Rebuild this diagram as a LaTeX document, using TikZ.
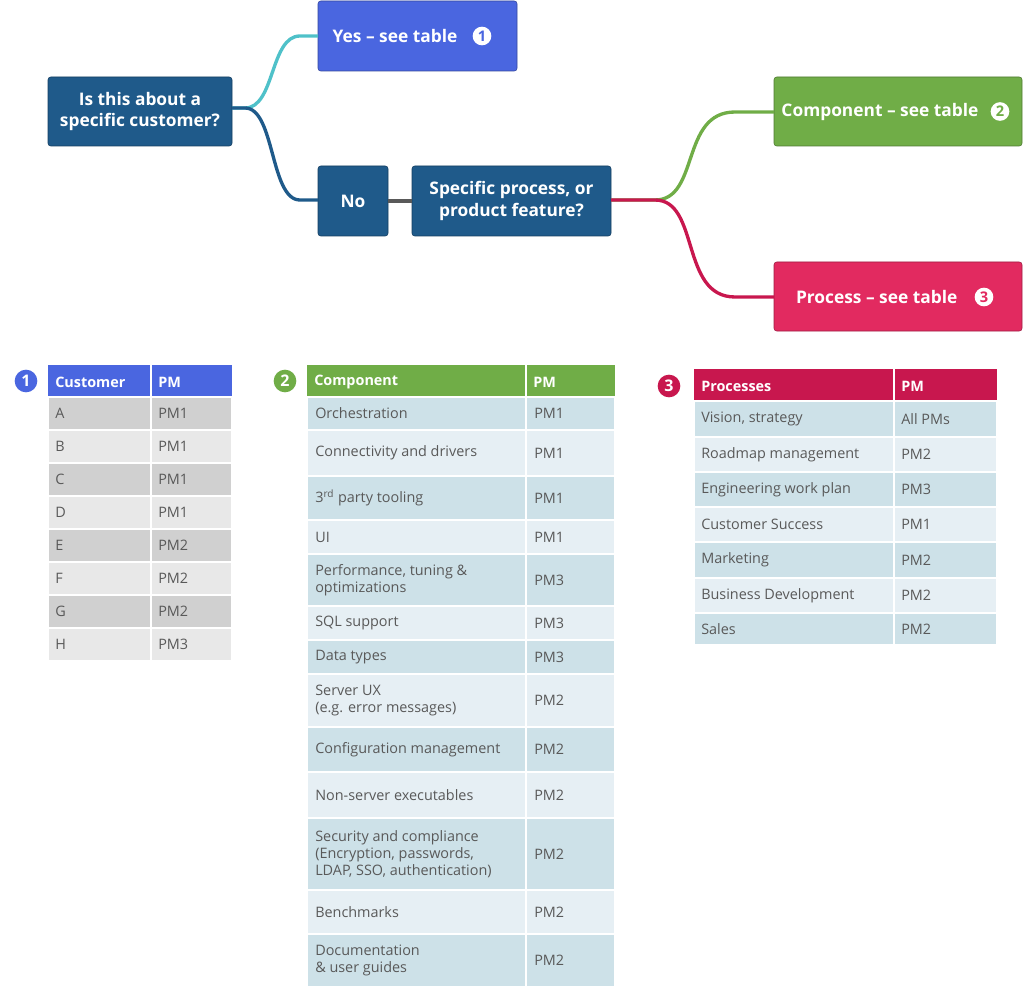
\documentclass[tikz,border=0pt]{standalone}
\usepackage{fontspec}
\setmainfont{Open Sans}
\usetikzlibrary{positioning}
\definecolor{qblue}{HTML}{1F5A8A}
\definecolor{yblue}{HTML}{4A66E0}
\definecolor{cgreen}{HTML}{70AD47}
\definecolor{pred}{HTML}{E22A60}
\definecolor{hred}{HTML}{C8174E}
\definecolor{teal}{HTML}{4FC1C9}
\definecolor{tgray}{HTML}{595959}
\definecolor{gA}{HTML}{D0D0D0}
\definecolor{gB}{HTML}{E8E8E8}
\definecolor{bA}{HTML}{CDE1E8}
\definecolor{bB}{HTML}{E6EFF4}
\begin{document}
\begin{tikzpicture}[x=0.75pt,y=-0.75pt,
  box/.style={draw=#1!70!black,fill=#1,rounded corners=2pt,text=white,font=\fontsize{13}{16}\selectfont\bfseries,align=center,inner sep=0pt},
  badge/.style={circle,fill=#1,text=white,inner sep=0pt,minimum size=17pt,font=\fontsize{12}{12}\selectfont\bfseries},
  mini/.style={circle,fill=white,text=#1,inner sep=0pt,minimum size=14pt,font=\fontsize{11}{11}\selectfont\bfseries},
  cell/.style={fill=#1,draw=white,line width=1.2pt},
  ctext/.style={anchor=west,text=tgray,font=\fontsize{10.8}{13}\selectfont,align=left,inner sep=0pt},
  htext/.style={anchor=west,text=white,font=\fontsize{10.8}{13}\selectfont\bfseries,inner sep=0pt},
  conn/.style={line width=2.5pt,draw=#1}]
\useasboundingbox (0,0) rectangle (1024,991);
% top boxes
\draw[box=qblue] (48,77) rectangle (232,146);
\node[text=white,font=\fontsize{13}{16}\selectfont\bfseries,align=center] (q1) at (140,111.5) {Is this about a\\specific customer?};
\draw[box=yblue] (318,1) rectangle (517,71);
\node[text=white,font=\fontsize{13}{16}\selectfont\bfseries,anchor=east] (yes) at (462,36) {Yes -- see table};
\node[mini=yblue] (y1) at (482,36) {1};
\draw[box=qblue] (318,166) rectangle (388,236);
\node[text=white,font=\fontsize{13}{16}\selectfont\bfseries] (no) at (353,201) {No};
\draw[box=qblue] (412,166) rectangle (611,236);
\node[text=white,font=\fontsize{13}{16}\selectfont\bfseries,align=center] (sp) at (511.5,201) {Specific process, or\\product feature?};
\draw[box=cgreen] (774,77) rectangle (1022,146);
\node[text=white,font=\fontsize{13}{16}\selectfont\bfseries,anchor=east] (comp) at (983,111.5) {Component -- see table};
\node[mini=cgreen] (c2) at (1000,111.5) {2};
\draw[box=pred] (774,262) rectangle (1022,331);
\node[text=white,font=\fontsize{13}{16}\selectfont\bfseries,anchor=east] (proc) at (962,297) {Process -- see table};
\node[mini=pred] (p3) at (984,297) {3};
% connectors
\coordinate (a) at (232,108); \coordinate (ay) at (318,36); \coordinate (an) at (318,200);
\coordinate (b) at (611,200); \coordinate (bc) at (774,112); \coordinate (bp) at (774,297);
\draw[conn=teal] (a) -- (245,108) .. controls (275,108) and (270,36) .. (300,36) -- (ay);
\draw[conn=qblue] (a) -- (245,108) .. controls (275,108) and (270,200) .. (300,200) -- (an);
\draw[conn=tgray] (388,201) -- (412,201);
\draw[conn=cgreen] (b) -- (655,200) .. controls (700,200) and (680,112) .. (735,112) -- (bc);
\draw[conn=hred] (b) -- (655,200) .. controls (700,200) and (680,297) .. (735,297) -- (bp);
% table 1
\node[badge=yblue] (t1) at (26,381) {1};
\fill[yblue] (48,365) rectangle (232,397);
\draw[white,line width=1.2pt] (151,365) -- (151,397);
\node[htext] (h1a) at (55,382) {Customer};
\node[htext] (h1b) at (158,382) {PM};
\foreach \l/\p [count=\i from 0] in {A/PM1,B/PM1,C/PM1,D/PM1,E/PM2,F/PM2,G/PM2,H/PM3}{
  \pgfmathsetmacro{\ya}{397+33*\i}
  \pgfmathtruncatemacro{\odd}{mod(\i,2)}
  \ifnum\odd=0 \def\cc{gA}\else\def\cc{gB}\fi
  \draw[cell=\cc] (48,\ya) rectangle (151,\ya+33);
  \draw[cell=\cc] (151,\ya) rectangle (232,\ya+33);
  \node[ctext] (t1l\i) at (55,\ya+16.5) {\l};
  \node[ctext] (t1p\i) at (158,\ya+16.5) {\p};
}
% table 2
\node[badge=cgreen] (t2) at (285,381) {2};
\fill[cgreen] (307,365) rectangle (615,397);
\draw[white,line width=1.2pt] (526,365) -- (526,397);
\node[htext] (h2a) at (314,382) {Component};
\node[htext] (h2b) at (533,382) {PM};
\foreach \ya/\yb/\cc/\t/\p [count=\i] in {
 397/430/bA/Orchestration/PM1,
 430/476/bB/Connectivity and drivers/PM1,
 476/520/bA/3\textsuperscript{rd} party tooling/PM1,
 520/554/bB/UI/PM1,
 554/606/bA/{Performance, tuning \&\\optimizations}/PM3,
 606/640/bB/SQL support/PM3,
 640/674/bA/Data types/PM3,
 674/727/bB/{Server UX\\(e.g. error messages)}/PM2,
 727/772/bA/Configuration management/PM2,
 772/818/bB/Non-server executables/PM2,
 818/890/bA/{Security and compliance\\(Encryption, passwords,\\LDAP, SSO, authentication)}/PM2,
 890/934/bB/Benchmarks/PM2,
 934/987/bA/{Documentation\\\& user guides}/PM2}{
  \draw[cell=\cc] (307,\ya) rectangle (526,\yb);
  \draw[cell=\cc] (526,\ya) rectangle (615,\yb);
  \node[ctext] (t2l\i) at (315,{(\ya+\yb)/2}) {\t};
  \node[ctext] (t2p\i) at (534,{(\ya+\yb)/2}) {\p};
}
% table 3
\node[badge=hred] (t3) at (669,386) {3};
\fill[hred] (694,369) rectangle (997,401);
\draw[white,line width=1.2pt] (894,369) -- (894,401);
\node[htext] (h3a) at (701,386) {Processes};
\node[htext] (h3b) at (901,386) {PM};
\foreach \ya/\yb/\cc/\t/\p [count=\i] in {
 401/437/bA/{Vision, strategy}/All PMs,
 437/472/bB/Roadmap management/PM2,
 472/507/bA/Engineering work plan/PM3,
 507/542/bB/Customer Success/PM1,
 542/578/bA/Marketing/PM2,
 578/613/bB/Business Development/PM2,
 613/645/bA/Sales/PM2}{
  \draw[cell=\cc] (694,\ya) rectangle (894,\yb);
  \draw[cell=\cc] (894,\ya) rectangle (997,\yb);
  \node[ctext] (t3l\i) at (701,{(\ya+\yb)/2}) {\t};
  \node[ctext] (t3p\i) at (901,{(\ya+\yb)/2}) {\p};
}
\end{tikzpicture}
\end{document}
